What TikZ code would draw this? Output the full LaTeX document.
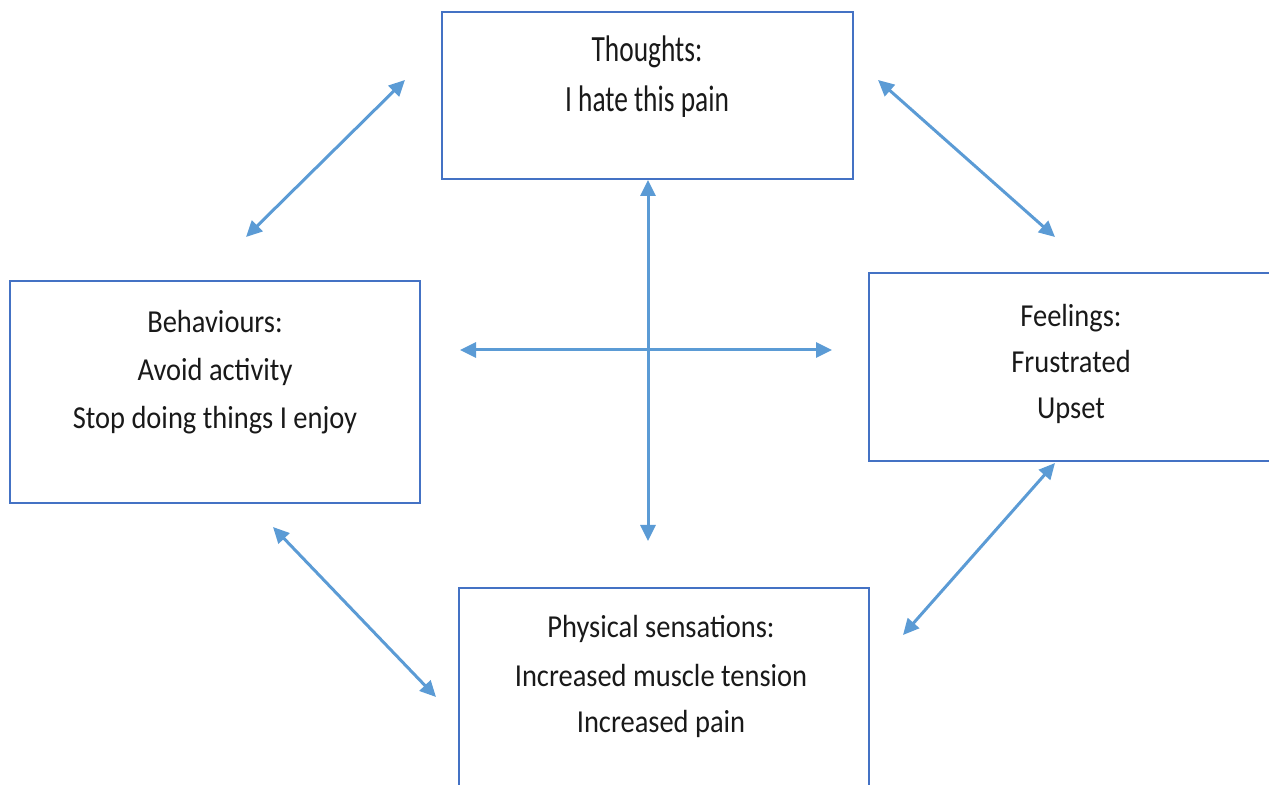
\documentclass[tikz,border=0pt]{standalone}
\usepackage{fontspec}
\setmainfont[FakeStretch=0.89]{Carlito}
\newfontfamily\narrowcf[FakeStretch=0.74]{Carlito}
\usetikzlibrary{arrows.meta}
\definecolor{boxblue}{HTML}{4472C4}
\definecolor{arrblue}{HTML}{5B9BD5}
\begin{document}
\begin{tikzpicture}[x=0.5pt,y=-0.5pt,
  box/.style={draw=boxblue,line width=1pt,inner sep=0pt},
  txt/.style={font=\fontsize{16}{24}\selectfont,anchor=base,inner sep=0pt,text=black!90},
  ttxt/.style={font=\narrowcf\fontsize{18.5}{25}\selectfont,anchor=base,inner sep=0pt,text=black!90},
  link/.style={draw=arrblue,line width=1.5pt,{Triangle[length=8pt,width=7.5pt]}-{Triangle[length=8pt,width=7.5pt]}}]
\useasboundingbox (0,0) rectangle (1269,785);
% boxes
\node[box,minimum width=205.5pt,minimum height=83.5pt] (thoughts) at (647.5,95.5) {};
\node[box,minimum width=205pt,minimum height=111pt] (behav) at (215,392) {};
\node[box,minimum width=203pt,minimum height=94pt] (feel) at (1072,367) {};
\node[box,minimum width=205pt,minimum height=104pt] (phys) at (664,692) {};
% texts
\node[ttxt] (t1) at (647,62) {Thoughts:};
\node[ttxt] (t2) at (647,112) {I hate this pain};
\node[txt] (b1) at (215,333) {Behaviours:};
\node[txt] (b2) at (215,381) {Avoid activity};
\node[txt] (b3) at (215,429) {Stop doing things I enjoy};
\node[txt] (f1) at (1071,327) {Feelings:};
\node[txt] (f2) at (1071,373) {Frustrated};
\node[txt] (f3) at (1071,419) {Upset};
\node[txt] (p1) at (661,638) {Physical sensations:};
\node[txt] (p2) at (661,686) {Increased muscle tension};
\node[txt] (p3) at (661,732) {Increased pain};
% connector ends
\coordinate (a1s) at (246,237); \coordinate (a1e) at (405,80);
\coordinate (a2s) at (878,80); \coordinate (a2e) at (1055,237);
\coordinate (a3e) at (648,541);
\coordinate (a4s) at (460,350); \coordinate (a4e) at (832,350);
\coordinate (a5s) at (273,527); \coordinate (a5e) at (436,697);
\coordinate (a6s) at (1055,463); \coordinate (a6e) at (903,635);
\draw[link] (a1s) -- (a1e);
\draw[link] (a2s) -- (a2e);
\draw[link] (thoughts.south -| a3e) -- (a3e);
\draw[link] (a4s) -- (a4e);
\draw[link] (a5s) -- (a5e);
\draw[link] (a6s) -- (a6e);
\end{tikzpicture}
\end{document}
